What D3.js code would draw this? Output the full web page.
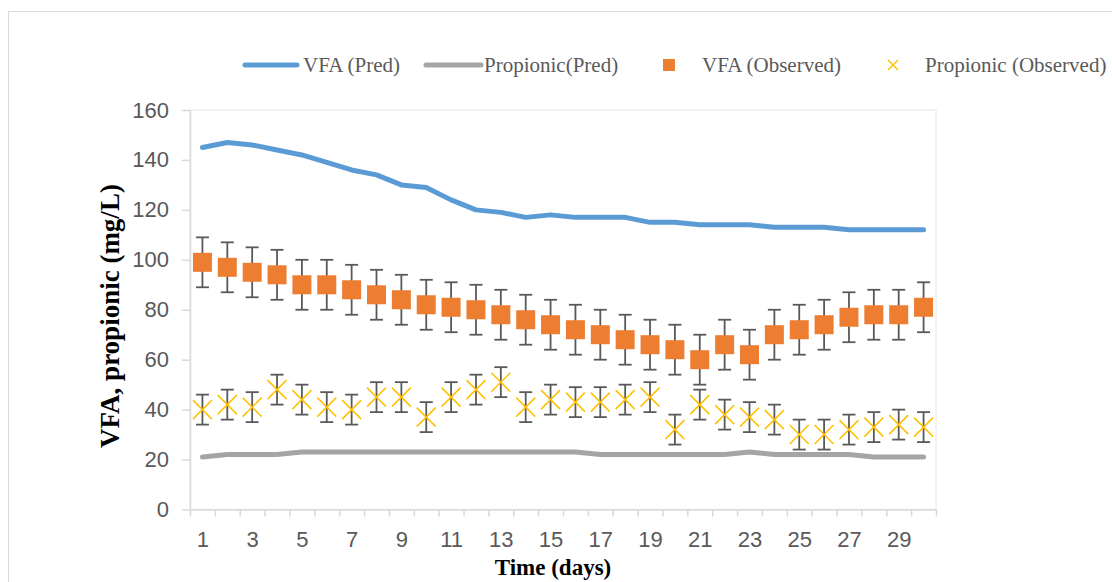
<!DOCTYPE html>
<html>
<head>
<meta charset="utf-8">
<script src="https://cdn.jsdelivr.net/npm/d3@7"></script>
<style>
  body { margin: 0; background: #fff; }
  svg { display: block; }
</style>
</head>
<body>
<svg id="chart" width="1112" height="582"></svg>
<script>
// data
const days = d3.range(1, 31);
const vfaPred = [145, 147, 146, 144, 142, 139, 136, 134, 130, 129, 124, 120, 119, 117, 118,
                 117, 117, 117, 115, 115, 114, 114, 114, 113, 113, 113, 112, 112, 112, 112];
const propPred = [21, 22, 22, 22, 23, 23, 23, 23, 23, 23, 23, 23, 23, 23, 23,
                  23, 22, 22, 22, 22, 22, 22, 23, 22, 22, 22, 22, 21, 21, 21];
const vfaObs = [99, 97, 95, 94, 90, 90, 88, 86, 84, 82, 81, 80, 78, 76, 74,
                72, 70, 68, 66, 64, 60, 66, 62, 70, 72, 74, 77, 78, 78, 81];
const vfaErr = 10;
const propObs = [40, 42, 41, 48, 44, 41, 40, 45, 45, 37, 45, 48, 51, 41, 44,
                 43, 43, 44, 45, 32, 42, 38, 37, 36, 30, 30, 32, 33, 34, 33];
const propErr = 6;
const yTicks = [0, 20, 40, 60, 80, 100, 120, 140, 160];
const xLabels = [1, 3, 5, 7, 9, 11, 13, 15, 17, 19, 21, 23, 25, 27, 29];
const legendNames = ["VFA (Pred)", "Propionic(Pred)", "VFA (Observed)", "Propionic (Observed)"];

const svg = d3.select("#chart");
const plotLeft = 190, plotRight = 936, plotTop = 110, plotBottom = 509.5;

const x = d3.scaleLinear().domain([0.5, 30.5]).range([plotLeft, plotRight]);
const y = d3.scaleLinear().domain([0, 160]).range([plotBottom, plotTop]);

const blue = "#5B9BD5", gray = "#A5A5A5", orange = "#ED7D31", gold = "#FFC000", dark = "#595959";

// outer chart border
svg.append("rect")
    .attr("x", 8.5).attr("y", 11.5)
    .attr("width", 1130).attr("height", 600)
    .attr("fill", "none").attr("stroke", "#d9d9d9");

// plot area border
svg.append("rect")
    .attr("x", plotLeft).attr("y", plotTop)
    .attr("width", plotRight - plotLeft).attr("height", plotBottom - plotTop)
    .attr("fill", "none").attr("stroke", "#efefef").attr("stroke-width", 1.5);

// Y axis
const yAxis = svg.append("g")
    .attr("transform", `translate(${plotLeft},0)`)
    .call(d3.axisLeft(y).tickValues(yTicks).tickSize(8).tickSizeOuter(0).tickPadding(13));
yAxis.select(".domain").attr("stroke", "#d9d9d9").attr("stroke-width", 1.5);
yAxis.selectAll(".tick line").attr("stroke", "#d9d9d9").attr("stroke-width", 1.5);
yAxis.selectAll("text")
    .attr("fill", dark)
    .style("font-family", "'Liberation Sans', Arial, sans-serif")
    .style("font-size", "22px");

// X axis: tick marks at category boundaries
const xAxis = svg.append("g")
    .attr("transform", `translate(0,${plotBottom})`)
    .call(d3.axisBottom(x).tickValues(d3.range(0.5, 31, 1)).tickSize(7).tickSizeOuter(0).tickFormat(""));
xAxis.select(".domain").attr("stroke", "#d9d9d9").attr("stroke-width", 1.5);
xAxis.selectAll(".tick line").attr("stroke", "#d9d9d9").attr("stroke-width", 1.5);

// X labels every other day
const xLab = svg.append("g")
    .attr("transform", `translate(0,${plotBottom})`)
    .call(d3.axisBottom(x).tickValues(xLabels).tickSize(0).tickPadding(22));
xLab.select(".domain").remove();
xLab.selectAll("text")
    .attr("fill", dark)
    .style("font-family", "'Liberation Sans', Arial, sans-serif")
    .style("font-size", "22px");

// axis titles
svg.append("text")
    .attr("x", 553).attr("y", 575)
    .attr("text-anchor", "middle")
    .style("font-family", "'Liberation Serif', 'Times New Roman', serif")
    .style("font-weight", "bold")
    .style("font-size", "23px")
    .text("Time (days)");

svg.append("text")
    .attr("transform", "rotate(-90)")
    .attr("x", -316).attr("y", 119)
    .attr("text-anchor", "middle")
    .style("font-family", "'Liberation Serif', 'Times New Roman', serif")
    .style("font-weight", "bold")
    .style("font-size", "27px")
    .text("VFA, propionic (mg/L)");

// predicted lines
const line = d3.line().x((d, i) => x(days[i])).y(d => y(d));
svg.append("path").datum(vfaPred)
    .attr("d", line).attr("fill", "none")
    .attr("stroke", blue).attr("stroke-width", 5)
    .attr("stroke-linecap", "round").attr("stroke-linejoin", "round");
svg.append("path").datum(propPred)
    .attr("d", line).attr("fill", "none")
    .attr("stroke", gray).attr("stroke-width", 5)
    .attr("stroke-linecap", "round").attr("stroke-linejoin", "round");

// error bars
function errorBars(values, err) {
    const g = svg.append("g").attr("stroke", dark).attr("stroke-width", 1.8);
    values.forEach((v, i) => {
        const cx = x(days[i]);
        g.append("line").attr("x1", cx).attr("x2", cx).attr("y1", y(v - err)).attr("y2", y(v + err));
        g.append("line").attr("x1", cx - 6.5).attr("x2", cx + 6.5).attr("y1", y(v + err)).attr("y2", y(v + err));
        g.append("line").attr("x1", cx - 6.5).attr("x2", cx + 6.5).attr("y1", y(v - err)).attr("y2", y(v - err));
    });
}
errorBars(vfaObs, vfaErr);
errorBars(propObs, propErr);

// VFA observed squares
svg.append("g").selectAll("rect")
    .data(vfaObs)
    .enter().append("rect")
    .attr("x", (d, i) => x(days[i]) - 9.5)
    .attr("y", d => y(d) - 9.5)
    .attr("width", 19).attr("height", 19)
    .attr("fill", orange);

// Propionic observed crosses
const cross = svg.append("g").attr("stroke", gold).attr("stroke-width", 1.5);
propObs.forEach((v, i) => {
    const cx = x(days[i]), cy = y(v), s = 9.5;
    cross.append("line").attr("x1", cx - s).attr("y1", cy - s).attr("x2", cx + s).attr("y2", cy + s);
    cross.append("line").attr("x1", cx - s).attr("y1", cy + s).attr("x2", cx + s).attr("y2", cy - s);
});

// legend
const ly = 65;
const legendFont = g => g
    .attr("fill", dark)
    .style("font-family", "'Liberation Serif', 'Times New Roman', serif")
    .style("font-size", "21px")
    .attr("dominant-baseline", "central");

svg.append("line").attr("x1", 245).attr("x2", 297).attr("y1", ly).attr("y2", ly)
    .attr("stroke", blue).attr("stroke-width", 5).attr("stroke-linecap", "round");
svg.append("text").attr("x", 303).attr("y", ly).call(legendFont).text(legendNames[0]);

svg.append("line").attr("x1", 426).attr("x2", 481).attr("y1", ly).attr("y2", ly)
    .attr("stroke", gray).attr("stroke-width", 5).attr("stroke-linecap", "round");
svg.append("text").attr("x", 484).attr("y", ly).call(legendFont).text(legendNames[1]);

svg.append("rect").attr("x", 663).attr("y", ly - 6).attr("width", 12).attr("height", 12).attr("fill", orange);
svg.append("text").attr("x", 702).attr("y", ly).call(legendFont).text(legendNames[2]);

svg.append("line").attr("x1", 888).attr("y1", ly - 5).attr("x2", 898).attr("y2", ly + 5)
    .attr("stroke", gold).attr("stroke-width", 1.5);
svg.append("line").attr("x1", 888).attr("y1", ly + 5).attr("x2", 898).attr("y2", ly - 5)
    .attr("stroke", gold).attr("stroke-width", 1.5);
svg.append("text").attr("x", 925).attr("y", ly).call(legendFont).text(legendNames[3]);
</script>
</body>
</html>
